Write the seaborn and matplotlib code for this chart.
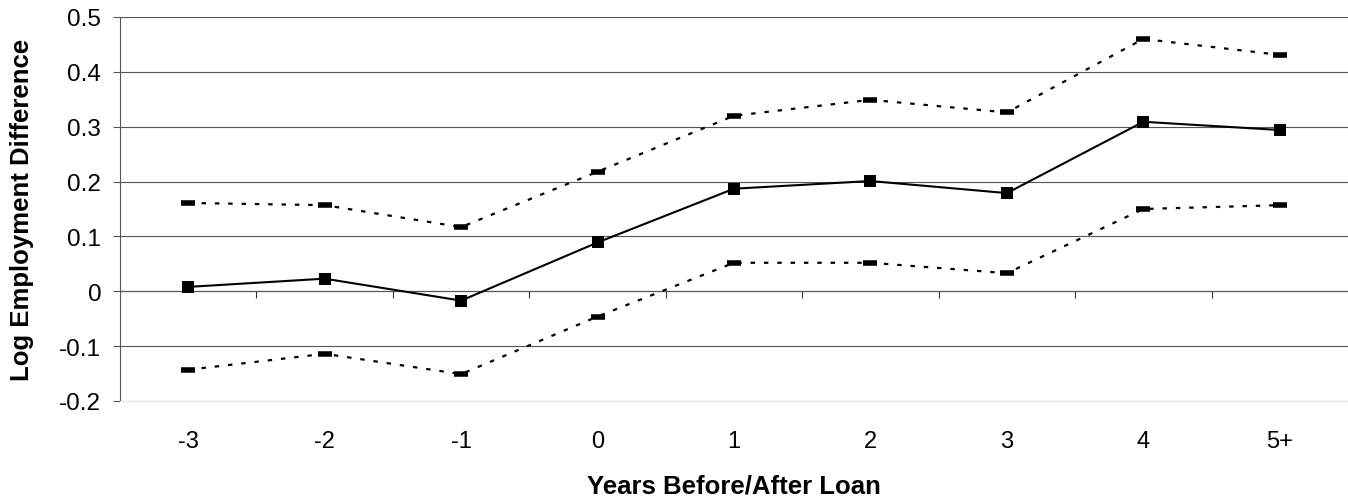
import numpy as np
import pandas as pd
import matplotlib
matplotlib.use("Agg")
import matplotlib.pyplot as plt
import seaborn as sns

years = ["-3", "-2", "-1", "0", "1", "2", "3", "4", "5+"]
estimate = [0.008, 0.023, -0.017, 0.089, 0.187, 0.201, 0.179, 0.309, 0.294]
upper = [0.161, 0.157, 0.117, 0.218, 0.320, 0.349, 0.326, 0.460, 0.431]
lower = [-0.143, -0.114, -0.151, -0.046, 0.052, 0.052, 0.033, 0.150, 0.157]
ytick_vals = [-0.2, -0.1, 0, 0.1, 0.2, 0.3, 0.4, 0.5]
ytick_labels = ["-0.2", "-0.1", "0", "0.1", "0.2", "0.3", "0.4", "0.5"]

df = pd.DataFrame({"pos": np.arange(len(years)), "year": years,
                   "est": estimate, "hi": upper, "lo": lower})

sns.set_style("white")
plt.rcParams["font.family"] = ["Liberation Sans", "DejaVu Sans"]
plt.rcParams["text.color"] = "black"
plt.rcParams["axes.labelcolor"] = "black"
plt.rcParams["xtick.labelcolor"] = "black"
plt.rcParams["ytick.labelcolor"] = "black"

fig = plt.figure(figsize=(13.48, 5.02), dpi=100)
ax = fig.add_axes([120 / 1348, 100 / 502, 1228 / 1348, 384 / 502])

for col in ["hi", "lo"]:
    sns.lineplot(data=df, x="pos", y=col, ax=ax, color="black", lw=1.6,
                 linestyle=(0, (2, 4)), marker="_", markersize=10.5,
                 markeredgewidth=4, markeredgecolor="black", zorder=3)
sns.lineplot(data=df, x="pos", y="est", ax=ax, color="black", lw=1.5,
             marker="s", markersize=8, markeredgewidth=0, zorder=4)

ax.set_xlim(-0.5, len(years) - 0.5)
ax.set_ylim(-0.2, 0.5)
ax.set_yticks(ytick_vals)
ax.set_yticklabels(ytick_labels, fontsize=17.5)
ax.set_xticks(df["pos"])
ax.set_xticklabels(years, fontsize=17)
ax.tick_params(axis="x", length=0, pad=21)
ax.tick_params(axis="y", direction="out", length=5, width=0.8,
               color="#555555", pad=8.5, left=True)

ax.grid(axis="y", color="#555555", lw=0.8)
ax.yaxis.get_gridlines()[0].set_color("#e6e6e6")
for s in ["top", "right"]:
    ax.spines[s].set_visible(False)
ax.spines["bottom"].set_color("#e6e6e6")
ax.spines["left"].set_color("#555555")
ax.spines["left"].set_linewidth(0.8)

# zero line with category separators
zero_frac = (0 - (-0.2)) / (0.5 - (-0.2))
sec = ax.secondary_xaxis(zero_frac)
sec.set_xticks(np.arange(len(years) - 1) + 0.5)
sec.set_xticklabels([])
sec.tick_params(direction="out", length=5, width=0.8, color="#333333")
sec.spines["bottom"].set_color("#333333")
sec.spines["bottom"].set_linewidth(0.8)

ax.set_xlabel("Years Before/After Loan", fontsize=18.5, fontweight="bold")
ax.set_ylabel("Log Employment Difference", fontsize=18.5, fontweight="bold")
ax.xaxis.set_label_coords(0.5, -0.19)
ax.yaxis.set_label_coords(-0.070, 0.5)

fig.savefig("out.png", dpi=100)
